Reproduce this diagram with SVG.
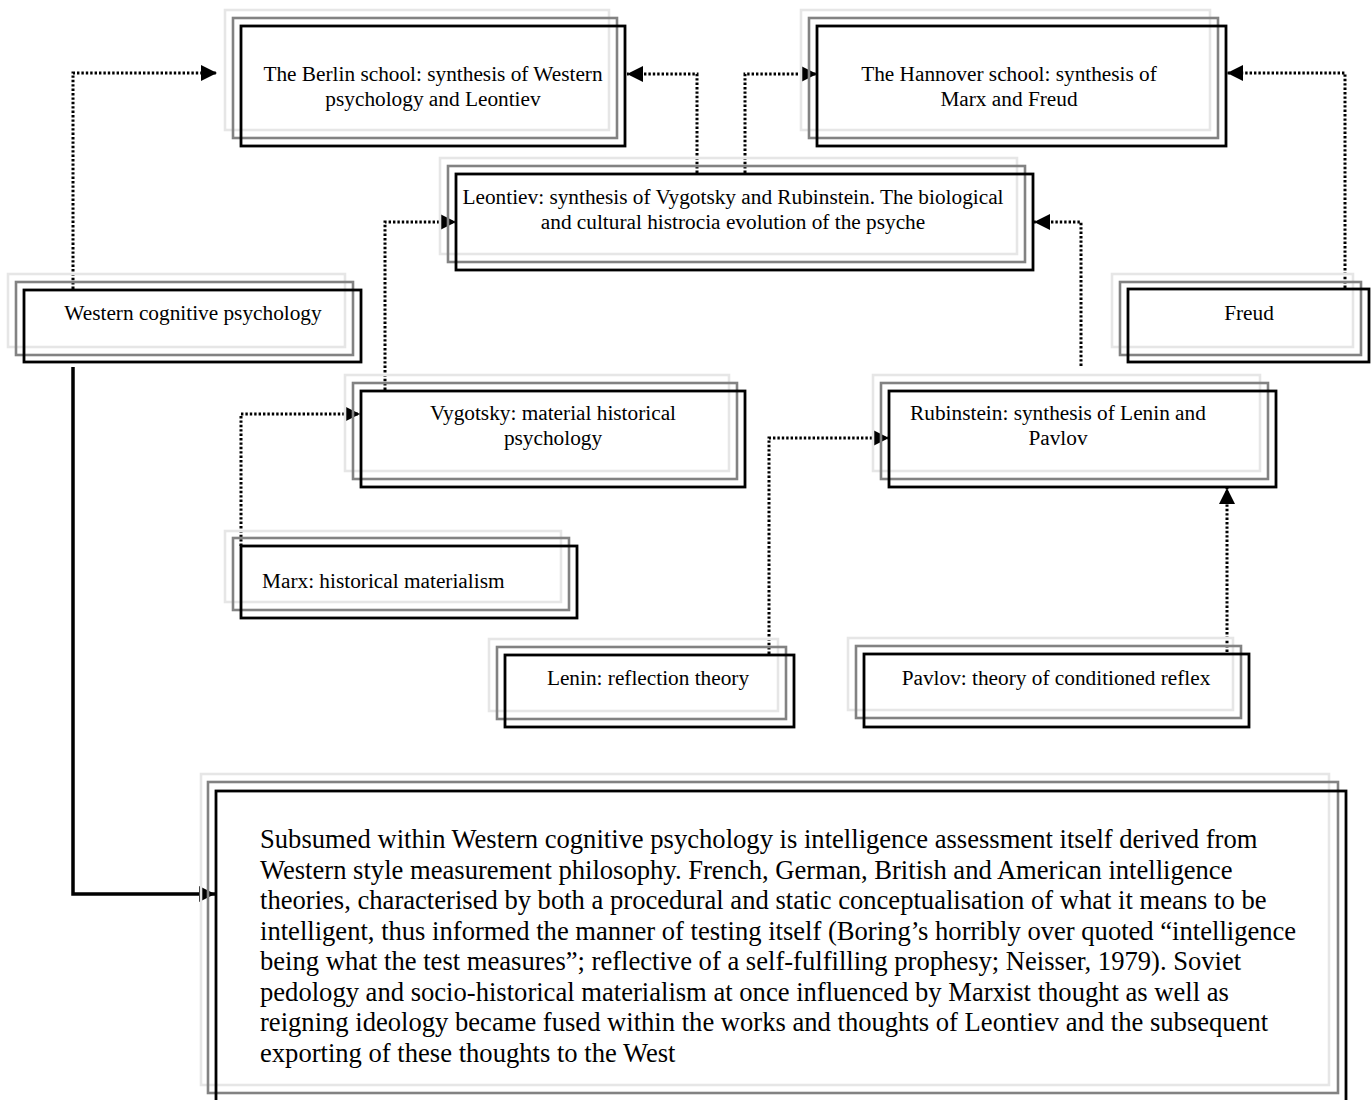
<svg xmlns="http://www.w3.org/2000/svg" width="1371" height="1100" viewBox="0 0 1371 1100">
<style>
.l{fill:none;stroke:#e6e6e6;stroke-width:2.6}
.g{fill:none;stroke:#828282;stroke-width:2.6}
.b{fill:none;stroke:#000;stroke-width:2.8}
text{font-family:"Liberation Serif","Times New Roman",serif;font-size:21.3px;fill:#000}
.c{text-anchor:middle}
.big{font-size:26.6px}
.dot{fill:none;stroke:#000;stroke-width:3;stroke-dasharray:2.4 2}
.sol{fill:none;stroke:#000;stroke-width:3.5}
</style>
<defs>
<marker id="ah" markerUnits="userSpaceOnUse" markerWidth="16" markerHeight="16" refX="15" refY="7.5" orient="auto" viewBox="0 0 15 15">
<path d="M0,0 L15,7.5 L0,15 z" fill="#000" stroke="none"/>
</marker>
</defs>
<rect width="1371" height="1100" fill="#fff"/>

<g id="connectors">
<polyline class="dot" points="73,289 73,73 217,73" marker-end="url(#ah)"/>
<polyline class="dot" points="697,173 697,74 627,74" marker-end="url(#ah)"/>
<polyline class="dot" points="745,173 745,74 817,74" marker-end="url(#ah)"/>
<polyline class="dot" points="1345,288 1345,73 1227,73" marker-end="url(#ah)"/>
<polyline class="dot" points="385,390 385,222 456,222" marker-end="url(#ah)"/>
<polyline class="dot" points="1081,366 1081,222 1034,222" marker-end="url(#ah)"/>
<polyline class="dot" points="241,546 241,414 360,414" marker-end="url(#ah)"/>
<polyline class="dot" points="769,654 769,438 889,438" marker-end="url(#ah)"/>
<polyline class="dot" points="1227,652 1227,488" marker-end="url(#ah)"/>
<polyline class="sol" points="73,367 73,894 215,894" marker-end="url(#ah)"/>
</g>

<g id="berlin">
<rect class="l" x="225" y="10" width="384" height="120"/>
<rect class="g" x="233" y="18" width="384" height="120"/>
<rect class="b" x="241" y="26" width="384" height="120"/>
<text class="c" x="433" y="81">The Berlin school: synthesis of Western</text>
<text class="c" x="433" y="106">psychology and Leontiev</text>
</g>

<g id="hannover">
<rect class="l" x="801" y="10" width="409" height="120"/>
<rect class="g" x="809" y="18" width="409" height="120"/>
<rect class="b" x="817" y="26" width="409" height="120"/>
<text class="c" x="1009" y="81">The Hannover school: synthesis of</text>
<text class="c" x="1009" y="106">Marx and Freud</text>
</g>

<g id="leontiev">
<rect class="l" x="440" y="158" width="577" height="96"/>
<rect class="g" x="448" y="166" width="577" height="96"/>
<rect class="b" x="456" y="174" width="577" height="96"/>
<text class="c" x="733" y="204">Leontiev: synthesis of Vygotsky and Rubinstein. The biological</text>
<text class="c" x="733" y="229">and cultural histrocia evolution of the psyche</text>
</g>

<g id="western">
<rect class="l" x="8" y="274" width="337" height="73"/>
<rect class="g" x="16" y="282" width="337" height="73"/>
<rect class="b" x="24" y="290" width="337" height="72"/>
<text class="c" x="193" y="320">Western cognitive psychology</text>
</g>

<g id="freud">
<rect class="l" x="1112" y="274" width="241" height="73"/>
<rect class="g" x="1120" y="282" width="241" height="73"/>
<rect class="b" x="1128" y="289" width="241" height="73"/>
<text class="c" x="1249" y="320">Freud</text>
</g>

<g id="vygotsky">
<rect class="l" x="345" y="375" width="384" height="96"/>
<rect class="g" x="353" y="383" width="384" height="96"/>
<rect class="b" x="361" y="391" width="384" height="96"/>
<text class="c" x="553" y="420">Vygotsky: material historical</text>
<text class="c" x="553" y="445">psychology</text>
</g>

<g id="rubinstein">
<rect class="l" x="873" y="375" width="387" height="96"/>
<rect class="g" x="881" y="383" width="387" height="96"/>
<rect class="b" x="889" y="391" width="387" height="96"/>
<text class="c" x="1058" y="420">Rubinstein: synthesis of Lenin and</text>
<text class="c" x="1058" y="445">Pavlov</text>
</g>

<g id="marx">
<rect class="l" x="225" y="531" width="336" height="71"/>
<rect class="g" x="233" y="538" width="336" height="72"/>
<rect class="b" x="241" y="546" width="336" height="72"/>
<text x="262" y="588">Marx: historical materialism</text>
</g>

<g id="lenin">
<rect class="l" x="489" y="639" width="289" height="72"/>
<rect class="g" x="497" y="647" width="289" height="72"/>
<rect class="b" x="505" y="655" width="289" height="72"/>
<text class="c" x="648" y="685">Lenin: reflection theory</text>
</g>

<g id="pavlov">
<rect class="l" x="848" y="638" width="385" height="72"/>
<rect class="g" x="856" y="646" width="385" height="72"/>
<rect class="b" x="864" y="654" width="385" height="73"/>
<text class="c" x="1056" y="685">Pavlov: theory of conditioned reflex</text>
</g>

<g id="summary">
<rect class="l" x="201" y="774" width="1128" height="311"/>
<rect class="g" x="208" y="782" width="1130" height="311"/>
<rect class="b" x="216" y="791" width="1130" height="312"/>
<text class="big" x="260" y="848">Subsumed within Western cognitive psychology is intelligence assessment itself derived from</text>
<text class="big" x="260" y="878.5">Western style measurement philosophy. French, German, British and American intelligence</text>
<text class="big" x="260" y="909">theories, characterised by both a procedural and static conceptualisation of what it means to be</text>
<text class="big" x="260" y="939.5">intelligent, thus informed the manner of testing itself (Boring’s horribly over quoted “intelligence</text>
<text class="big" x="260" y="970">being what the test measures”; reflective of a self-fulfilling prophesy; Neisser, 1979). Soviet</text>
<text class="big" x="260" y="1000.5">pedology and socio-historical materialism at once influenced by Marxist thought as well as</text>
<text class="big" x="260" y="1031">reigning ideology became fused within the works and thoughts of Leontiev and the subsequent</text>
<text class="big" x="260" y="1061.5">exporting of these thoughts to the West</text>
</g>
</svg>
